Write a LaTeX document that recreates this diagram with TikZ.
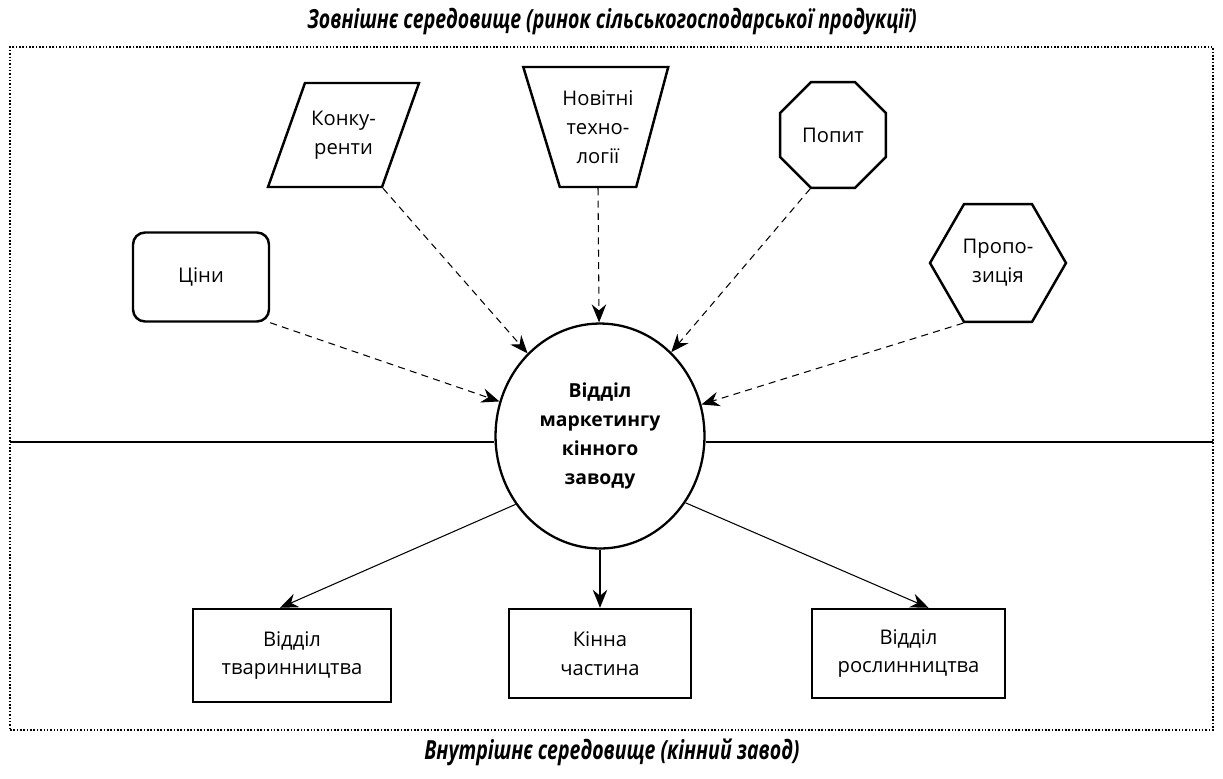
\documentclass[tikz,border=0pt]{standalone}
\usepackage{fontspec}
\setmainfont{Open Sans}
\newfontfamily\titlefont[FakeStretch=0.74]{Open Sans}
\usetikzlibrary{arrows.meta,positioning,calc,shapes.geometric}
\tikzset{
  shapebox/.style={draw, line width=1.4pt, align=center, inner sep=1pt,
    font=\fontsize{11.5}{16.5}\selectfont},
  dasharrow/.style={-{Stealth[length=3.6mm, width=2.9mm, inset=1.2mm]},
    dash pattern=on 4pt off 3pt, line width=0.6pt},
  solidarrow/.style={-{Stealth[length=3.6mm, width=2.9mm, inset=1.2mm]}, line width=0.6pt},
  envtitle/.style={font=\titlefont\fontsize{15}{18}\selectfont\bfseries\itshape},
  frame/.style={draw, densely dotted, line width=0.9pt, inner sep=0pt, outer sep=0pt},
}
\begin{document}
\begin{tikzpicture}[x=0.02cm, y=-0.02cm]
      \useasboundingbox (0,0) rectangle (1223,778);
      \node[envtitle] (zovn) at (612,22) {Зовнішнє середовище (ринок сільськогосподарської продукції)};
      \node[envtitle] (vnutr) at (612,752) {Внутрішнє середовище (кінний завод)};
      \node[frame, minimum width=24.06cm, minimum height=13.66cm] (sereda) at (611.5,388.5) {};

      \coordinate (rozdil) at (0,442);
      \node[draw, ellipse, fill=white, line width=1.3pt, align=center, inner sep=0pt,
        minimum width=4.18cm, minimum height=4.5cm,
        font=\fontsize{11}{16.5}\selectfont\bfseries] (viddil) at (600,436)
        {Відділ\\маркетингу\\кінного\\заводу};
      \draw[line width=1.1pt] (sereda.west |- rozdil) -- (viddil.west |- rozdil);
      \draw[line width=1.1pt] (viddil.east |- rozdil) -- (sereda.east |- rozdil);

      \node[shapebox, rounded corners=0.24cm, minimum width=2.72cm, minimum height=1.78cm] (tsiny) at (201,277) {Ціни};
      \node[shapebox, trapezium, trapezium left angle=70.4, trapezium right angle=109.6,
        trapezium stretches body, inner ysep=0.555cm, minimum width=3.02cm, minimum height=2.08cm] (konk) at (343.5,135) {Конку-\\ренти};
      \node[shapebox, trapezium, trapezium left angle=107, trapezium right angle=105,
        trapezium stretches body, inner ysep=0.465cm, minimum width=2.9cm, minimum height=2.4cm] (tekh) at (598,127) {Новітні\\техно-\\логії};
      \node[shapebox, regular polygon, regular polygon sides=8, minimum size=2.29cm] (popyt) at (833,135) {Попит};
      \node[shapebox, regular polygon, regular polygon sides=6, minimum size=2.72cm] (prop) at (998,263) {Пропо-\\зиція};

      \node[shapebox, minimum width=3.96cm, minimum height=1.86cm] (tvar) at (292,655.5) {Відділ\\тваринництва};
      \node[shapebox, minimum width=3.64cm, minimum height=1.78cm] (kin) at (600,653.5) {Кінна\\частина};
      \node[shapebox, minimum width=3.86cm, minimum height=1.78cm] (rosl) at (908.5,653.5) {Відділ\\рослинництва};

      \draw[dasharrow] (tsiny.south east) -- (viddil);
      \draw[dasharrow] (konk.bottom right corner) -- (viddil);
      \draw[dasharrow] (tekh.south) -- (viddil);
      \draw[dasharrow] (popyt.247.5) -- (viddil);
      \draw[dasharrow] (prop.240) -- (viddil);

      \draw[solidarrow] (viddil.219) -- ($(tvar.north)+(-12,0)$);
      \draw[solidarrow] (viddil.south) -- (kin.north);
      \draw[solidarrow] (viddil.322) -- ($(rosl.north)+(20,0)$);
    \end{tikzpicture}
\end{document}
